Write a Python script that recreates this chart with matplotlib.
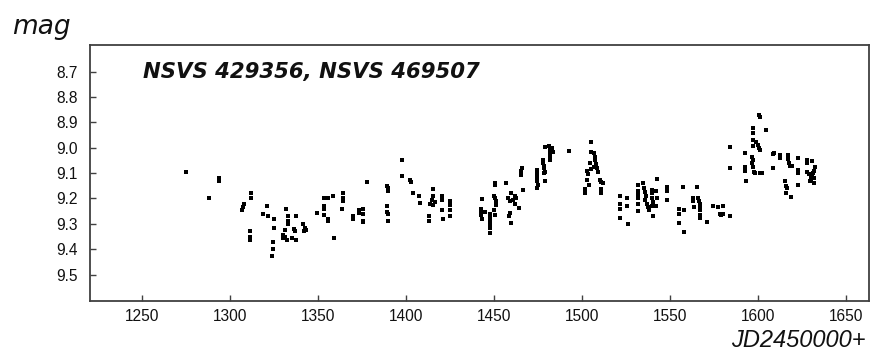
import matplotlib
matplotlib.use("Agg")
import matplotlib.pyplot as plt

plt.rcParams["font.family"] = ["Liberation Sans", "DejaVu Sans"]

# ----------------------------
# data
# ----------------------------
JD = [
    1275.3, 1288.4, 1294.1, 1294.1, 1308.0, 1307.5, 1307.0, 1311.9, 1312.0, 1311.5,
    1311.3, 1311.3, 1321.0, 1318.8, 1322.0, 1325.0, 1325.0, 1324.4, 1324.4, 1323.8,
    1331.8, 1333.0, 1333.0, 1333.0, 1337.5, 1331.6, 1330.0, 1331.5, 1330.5, 1332.7,
    1336.5, 1337.0, 1335.5, 1337.5, 1341.5, 1342.5, 1343.5, 1342.0, 1349.6, 1353.6,
    1356.0, 1358.5, 1353.6, 1353.6, 1353.6, 1356.0, 1356.0, 1359.3, 1364.2, 1364.2,
    1364.2, 1363.6, 1369.9, 1369.9, 1373.3, 1373.3, 1375.6, 1375.6, 1375.6, 1375.6,
    1378.0, 1389.4, 1389.8, 1390.0, 1389.4, 1389.6, 1390.0, 1390.0, 1397.7, 1397.7,
    1402.5, 1403.2, 1404.3, 1407.6, 1408.3, 1415.3, 1415.3, 1414.7, 1414.0, 1415.7,
    1416.5, 1413.2, 1413.2, 1420.4, 1420.4, 1420.8, 1421.4, 1425.2, 1425.2, 1425.2,
    1425.2,
    1443.2, 1442.8, 1442.8, 1442.8, 1443.5, 1448.0, 1448.0, 1448.0, 1448.0, 1448.0,
    1448.0, 1445.0, 1450.7, 1450.9, 1450.0, 1450.7, 1451.4, 1450.0, 1450.7, 1451.5,
    1457.0, 1458.0, 1459.3, 1461.2, 1462.0, 1459.7, 1459.0, 1458.7, 1459.7, 1462.0,
    1462.8, 1464.5, 1466.8, 1465.9, 1465.5, 1465.5, 1474.4, 1474.4, 1474.4, 1474.6,
    1475.0, 1474.4, 1478.2, 1478.2, 1478.6, 1478.6, 1479.0, 1479.0, 1478.7, 1479.0,
    1481.5, 1482.0, 1482.0, 1482.0, 1482.0, 1483.0, 1483.5, 1493.0,
    1505.0, 1505.0, 1507.0, 1507.5, 1507.7, 1508.0, 1507.0, 1508.7, 1509.0, 1502.8,
    1503.3, 1502.8, 1504.3, 1502.0, 1502.0, 1510.4, 1511.0, 1511.8, 1510.8, 1510.8,
    1504.5, 1505.5,
    1521.7, 1521.7, 1522.0, 1521.7, 1525.6, 1525.6, 1526.5, 1532.2, 1532.2, 1532.2,
    1532.2, 1532.2, 1532.2, 1535.0, 1535.5, 1536.0, 1536.5, 1536.0, 1537.0, 1537.5,
    1538.0, 1540.0, 1540.0, 1540.0, 1540.3, 1540.0, 1540.3, 1542.6, 1542.0, 1542.6,
    1542.0, 1548.3, 1548.3, 1548.3,
    1555.5, 1555.5, 1555.5, 1558.0, 1558.0, 1557.4, 1563.0, 1563.0, 1563.5, 1565.3,
    1566.0, 1566.5, 1567.0, 1567.0, 1567.0, 1567.0, 1567.0, 1570.9, 1574.4, 1577.5,
    1578.5, 1580.0, 1580.5, 1579.0, 1584.3,
    1584.0, 1584.0, 1593.0, 1593.0, 1593.0, 1593.2, 1597.2, 1597.2, 1597.5, 1597.5,
    1597.0, 1597.5, 1597.0, 1597.5, 1598.0, 1598.6, 1599.0, 1600.0, 1600.8, 1601.0,
    1600.6, 1601.0, 1601.3, 1602.3, 1604.7, 1608.5, 1609.3, 1608.5, 1612.7, 1612.7,
    1617.0, 1617.0, 1618.0, 1618.5, 1619.5, 1615.5, 1616.0, 1616.5, 1616.2, 1619.0,
    1623.0, 1623.0, 1623.0, 1623.0, 1627.8, 1628.0, 1631.0, 1632.5, 1628.0, 1629.0,
    1630.0, 1631.0, 1632.0, 1630.5, 1629.5, 1631.5, 1632.0, 1631.7,
]
MAG = [
    9.095, 9.197, 9.120, 9.130, 9.220, 9.235, 9.245, 9.180, 9.200, 9.330,
    9.350, 9.365, 9.230, 9.260, 9.270, 9.280, 9.317, 9.370, 9.400, 9.425,
    9.243, 9.270, 9.290, 9.300, 9.270, 9.326, 9.345, 9.350, 9.355, 9.365,
    9.320, 9.330, 9.355, 9.362, 9.300, 9.315, 9.325, 9.330, 9.257, 9.197,
    9.197, 9.190, 9.230, 9.240, 9.265, 9.280, 9.290, 9.355, 9.180, 9.200,
    9.210, 9.240, 9.270, 9.280, 9.247, 9.257, 9.240, 9.260, 9.287, 9.294,
    9.134, 9.150, 9.160, 9.172, 9.230, 9.255, 9.260, 9.287, 9.050, 9.113,
    9.126, 9.135, 9.179, 9.190, 9.218, 9.163, 9.190, 9.205, 9.220, 9.225,
    9.215, 9.270, 9.290, 9.190, 9.205, 9.245, 9.281, 9.208, 9.225, 9.245,
    9.270,
    9.202, 9.240, 9.250, 9.265, 9.280, 9.260, 9.275, 9.290, 9.300, 9.315,
    9.336, 9.255, 9.140, 9.146, 9.190, 9.200, 9.210, 9.245, 9.265, 9.225,
    9.140, 9.200, 9.210, 9.205, 9.220, 9.180, 9.256, 9.270, 9.297, 9.190,
    9.200, 9.238, 9.168, 9.080, 9.090, 9.107, 9.087, 9.100, 9.115, 9.130,
    9.146, 9.160, 9.048, 9.060, 9.070, 9.080, 9.094, 9.130, 9.100, 8.998,
    8.995, 9.005, 9.020, 9.035, 9.050, 9.000, 9.015, 9.012,
    8.978, 9.017, 9.020, 9.035, 9.050, 9.065, 9.075, 9.080, 9.094, 9.090,
    9.105, 9.126, 9.146, 9.163, 9.180, 9.127, 9.135, 9.140, 9.163, 9.180,
    9.060, 9.085,
    9.190, 9.220, 9.240, 9.276, 9.200, 9.230, 9.300, 9.146, 9.170, 9.185,
    9.200, 9.220, 9.250, 9.140, 9.160, 9.175, 9.190, 9.205, 9.220, 9.235,
    9.245, 9.166, 9.180, 9.200, 9.215, 9.230, 9.270, 9.124, 9.170, 9.200,
    9.230, 9.155, 9.170, 9.205,
    9.242, 9.260, 9.297, 9.245, 9.332, 9.153, 9.197, 9.210, 9.233, 9.153,
    9.197, 9.210, 9.220, 9.235, 9.245, 9.265, 9.277, 9.294, 9.230, 9.235,
    9.260, 9.230, 9.260, 9.265, 9.270,
    8.998, 9.078, 9.020, 9.074, 9.090, 9.130, 8.924, 8.943, 8.970, 8.995,
    9.035, 9.050, 9.060, 9.075, 9.094, 9.100, 8.976, 8.990, 9.000, 9.008,
    8.870, 8.880, 9.100, 9.100, 8.930, 9.024, 9.020, 9.078, 9.028, 9.041,
    9.028, 9.045, 9.060, 9.070, 9.070, 9.133, 9.150, 9.160, 9.180, 9.196,
    9.041, 9.087, 9.100, 9.146, 9.048, 9.060, 9.054, 9.074, 9.094, 9.105,
    9.110, 9.115, 9.120, 9.125, 9.133, 9.100, 9.090, 9.140,
]

X_TICKS = [1250, 1300, 1350, 1400, 1450, 1500, 1550, 1600, 1650]
Y_TICKS = [8.7, 8.8, 8.9, 9.0, 9.1, 9.2, 9.3, 9.4, 9.5]
TITLE = "NSVS 429356, NSVS 469507"

# ----------------------------
# figure
# ----------------------------
fig = plt.figure(figsize=(8.79, 3.54), dpi=100)
ax = fig.add_axes([90 / 879, 53 / 354, 779 / 879, 256 / 354])

ax.plot(JD, MAG, linestyle="none", marker="s", markersize=2.4,
        markerfacecolor="black", markeredgewidth=0)

ax.set_xlim(1220.6, 1663.2)
ax.set_ylim(9.604, 8.595)
ax.set_xticks(X_TICKS)
ax.set_yticks(Y_TICKS)
ax.set_yticklabels([f"{v:.1f}" for v in Y_TICKS])

for s in ax.spines.values():
    s.set_color("#404040")
    s.set_linewidth(1.3)
ax.tick_params(direction="in", length=4, width=1.0, color="#404040",
               labelsize=11.2, labelcolor="#111111")
ax.tick_params(axis="y", pad=9)
ax.tick_params(axis="x", pad=6)

# wide bold italic title inside the box
ax.text(0.068, 0.895, TITLE, transform=ax.transAxes, fontsize=15.3,
        fontweight="bold", fontstyle="italic", family="DejaVu Sans",
        va="center", ha="left", color="#111111")

fig.text(12 / 879, 1 - 34 / 354, "mag", fontsize=19, fontstyle="italic",
         family="DejaVu Sans", ha="left", va="baseline", color="#111111")
fig.text(866 / 879, 1 - 347 / 354, "JD2450000+", fontsize=17,
         fontstyle="italic", ha="right", va="baseline", color="#111111")

fig.savefig("out.png", dpi=100)
